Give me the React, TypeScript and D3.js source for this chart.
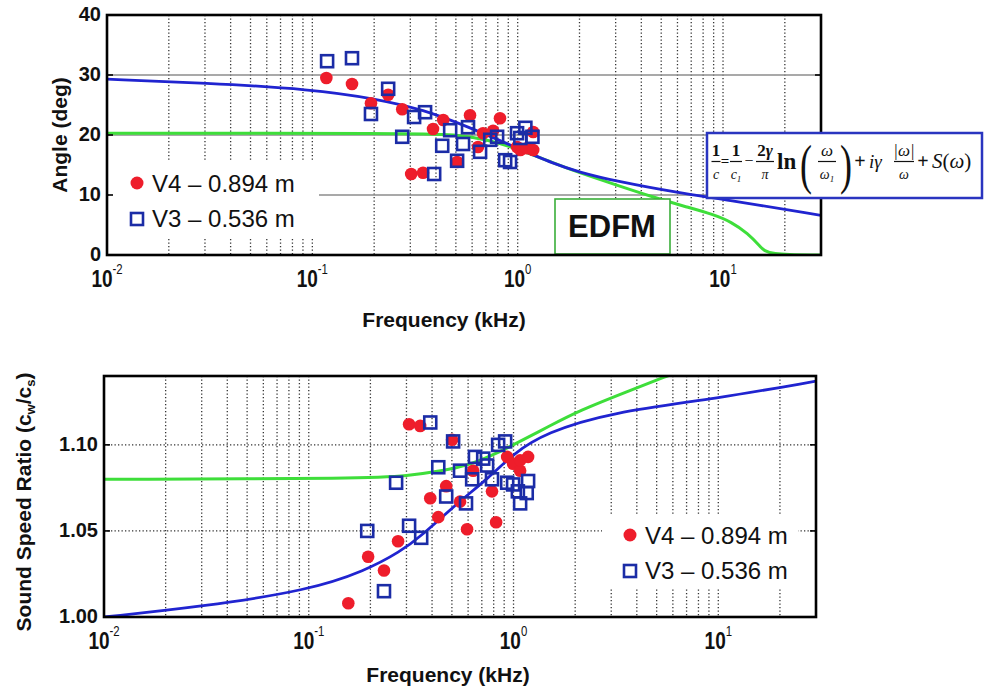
import React from 'react';
import * as d3 from 'd3';

const W = 984;
const H = 693;
const SANS = '"Liberation Sans", Arial, sans-serif';
const SERIF = '"Liberation Serif", "Times New Roman", serif';

const RED = '#ee1d2b';
const SQUARE = '#1b2ca6';
const BLUE = '#2024d0';
const GREEN = '#3ede3a';

// ---- top panel: angle (deg) vs frequency (kHz)
const angleBlueFreq = [0.01, 0.03, 0.1, 0.2, 0.35, 0.57, 1.0, 1.5, 2.0, 3.0, 6.2, 10, 30];
const angleBlueVal = [29.3, 28.7, 27.6, 26.1, 24.2, 21.4, 17.8, 15.2, 13.8, 12.3, 10.3, 9.3, 6.6];
const angleGreenFreq = [0.01, 0.3, 0.5, 0.7, 1.0, 1.5, 2.0, 3.0, 4.6, 6.5, 8.9, 11, 13.2, 15.2, 16.5, 30];
const angleGreenVal = [20.3, 20.3, 20.1, 19.3, 17.7, 15.3, 13.7, 11.7, 9.6, 8.1, 6.8, 5.5, 3.6, 1.4, 0, 0];

const angleV4Freq = [0.117, 0.156, 0.193, 0.234, 0.274, 0.303, 0.346, 0.387, 0.434, 0.507, 0.586, 0.641, 0.678, 0.759, 0.82, 0.993, 1.03, 1.11, 1.19, 1.19];
const angleV4Val = [29.5, 28.5, 25.3, 26.7, 24.3, 13.5, 13.7, 21, 22.5, 15.5, 23.3, 18, 20.3, 20.7, 22.8, 18, 17.5, 17.8, 20.5, 17.5];
const angleV3Freq = [0.118, 0.156, 0.193, 0.234, 0.274, 0.313, 0.354, 0.392, 0.429, 0.469, 0.542, 0.507, 0.573, 0.656, 0.735, 0.794, 0.869, 0.918, 0.993, 1.09, 1.18, 1.03];
const angleV3Val = [32.3, 32.8, 23.5, 27.7, 19.7, 23, 23.8, 13.5, 18.2, 20.8, 18.5, 15.7, 21.3, 17.2, 19.2, 19.7, 15.8, 15.5, 20.3, 21.2, 19.7, 19.5];

// ---- bottom panel: sound speed ratio vs frequency (kHz)
const ratioBlueFreq = [0.01, 0.03, 0.1, 0.19, 0.28, 0.354, 0.53, 0.76, 1.0, 1.43, 3.0, 10, 30];
const ratioBlueVal = [1.0, 1.006, 1.0155, 1.027, 1.038, 1.047, 1.066, 1.081, 1.095, 1.107, 1.119, 1.127, 1.137];
const ratioGreenFreq = [0.01, 0.2, 0.3, 0.45, 0.6, 0.79, 1.0, 1.5, 2.1, 3.6, 5.6, 7];
const ratioGreenVal = [1.08, 1.0805, 1.082, 1.085, 1.088, 1.094, 1.1, 1.111, 1.12, 1.131, 1.14, 1.144];

const ratioV4Freq = [0.156, 0.195, 0.233, 0.273, 0.309, 0.35, 0.392, 0.429, 0.469, 0.501, 0.548, 0.593, 0.635, 0.785, 0.822, 0.931, 0.995, 1.077, 1.077, 1.178];
const ratioV4Val = [1.008, 1.035, 1.027, 1.044, 1.112, 1.111, 1.069, 1.058, 1.076, 1.103, 1.067, 1.051, 1.085, 1.073, 1.055, 1.093, 1.089, 1.085, 1.091, 1.093];
const ratioV3Freq = [0.193, 0.233, 0.267, 0.309, 0.354, 0.392, 0.429, 0.469, 0.507, 0.548, 0.586, 0.628, 0.648, 0.711, 0.743, 0.785, 0.841, 0.91, 0.931, 0.995, 1.05, 1.077, 1.16, 1.178];
const ratioV3Val = [1.05, 1.015, 1.078, 1.053, 1.046, 1.113, 1.087, 1.07, 1.102, 1.085, 1.066, 1.08, 1.093, 1.092, 1.088, 1.08, 1.1, 1.102, 1.078, 1.077, 1.073, 1.066, 1.072, 1.079];

const decades = [0.01, 0.1, 1, 10];
const decadeExp = ['-2', '-1', '0', '1'];
const angleTicks = [0, 10, 20, 30, 40];
const ratioTicks = [1.0, 1.05, 1.1];
const legendLabels = ['V4 \u2013 0.894 m', 'V3 \u2013 0.536 m'];

const zip = (a: number[], b: number[]) => a.map((v, i) => [v, b[i]] as [number, number]);

type PanelProps = {
  id: string;
  left: number; right: number; top: number; bottom: number;
  yDomain: [number, number];
  yTicks: number[];
  yFmt: (v: number) => string;
  solidHGrid: boolean;
  blue: [number, number][];
  green: [number, number][];
  v4: [number, number][];
  v3: [number, number][];
  legend: { x: number; y: number; w: number; h: number };
  yLabel: React.ReactNode;
  xLabelY: number;
  xLabelX: number;
  extra?: React.ReactNode;
};

function Panel(p: PanelProps) {
  const x = d3.scaleLog().domain([0.01, 30]).range([p.left, p.right]);
  const y = d3.scaleLinear().domain(p.yDomain).range([p.bottom, p.top]);
  const line = d3.line<[number, number]>()
    .x((d) => x(d[0]))
    .y((d) => y(d[1]))
    .curve(d3.curveBasis);
  const vGrid = x.ticks().filter((t) => t > 0.01 && t < 30);
  const hGrid = p.yTicks.filter((t) => t > p.yDomain[0] && t < p.yDomain[1]);
  const lg = p.legend;

  return (
    <g>
      <defs>
        <clipPath id={p.id}>
          <rect x={p.left} y={p.top} width={p.right - p.left} height={p.bottom - p.top} />
        </clipPath>
      </defs>
      <rect x={p.left} y={p.top} width={p.right - p.left} height={p.bottom - p.top} fill="#fff" />
      {vGrid.map((t) => (
        <line key={'v' + t} x1={x(t)} x2={x(t)} y1={p.top} y2={p.bottom}
          stroke="#333" strokeWidth={1.3} strokeDasharray="1.3 2.2" />
      ))}
      {hGrid.map((t) => (
        <line key={'h' + t} x1={p.left} x2={p.right} y1={y(t)} y2={y(t)}
          stroke={p.solidHGrid ? '#8c8c8c' : '#333'}
          strokeWidth={p.solidHGrid ? 1.6 : 1.3}
          strokeDasharray={p.solidHGrid ? undefined : '1.3 2.2'} />
      ))}
      <rect x={lg.x} y={lg.y} width={lg.w} height={lg.h} fill="#fff" />
      <g clipPath={`url(#${p.id})`}>
        <path d={line(p.green) || ''} fill="none" stroke={GREEN} strokeWidth={3} />
        <path d={line(p.blue) || ''} fill="none" stroke={BLUE} strokeWidth={2.8} />
        {p.v4.map((d, i) => (
          <circle key={'c' + i} cx={x(d[0])} cy={y(d[1])} r={6.3} fill={RED} />
        ))}
        {p.v3.map((d, i) => (
          <rect key={'s' + i} x={x(d[0]) - 6} y={y(d[1]) - 6} width={12} height={12}
            fill="none" stroke={SQUARE} strokeWidth={2.6} />
        ))}
      </g>
      {/* legend */}
      <circle cx={lg.x + 28} cy={lg.y + 21} r={6.5} fill={RED} />
      <rect x={lg.x + 22} y={lg.y + 51} width={12} height={12} fill="none" stroke={SQUARE} strokeWidth={2.6} />
      <text x={lg.x + 43} y={lg.y + 30} fontFamily={SANS} fontSize={24} fill="#111">{legendLabels[0]}</text>
      <text x={lg.x + 43} y={lg.y + 65} fontFamily={SANS} fontSize={24} fill="#111">{legendLabels[1]}</text>
      {p.extra}
      {/* frame & ticks */}
      <rect x={p.left} y={p.top} width={p.right - p.left} height={p.bottom - p.top}
        fill="none" stroke="#000" strokeWidth={2.6} />
      {hGrid.map((t) => (
        <g key={'t' + t}>
          <line x1={p.left} x2={p.left + 6} y1={y(t)} y2={y(t)} stroke="#000" strokeWidth={1.6} />
          <line x1={p.right - 6} x2={p.right} y1={y(t)} y2={y(t)} stroke="#000" strokeWidth={1.6} />
        </g>
      ))}
      {p.yTicks.map((t) => (
        <text key={'yl' + t} x={p.left - 6} y={y(t) + 6} textAnchor="end"
          fontFamily={SANS} fontWeight="bold" fontSize={20} fill="#111">{p.yFmt(t)}</text>
      ))}
      {decades.map((t, i) => (
        <g key={'xl' + t} transform={`translate(${x(t)},${p.bottom + 32}) scale(0.95,1.2)`}>
          <text textAnchor="middle" fontFamily={SANS} fill="#111">
            <tspan fontWeight="bold" fontSize={20}>10</tspan>
            <tspan fontSize={12} dy={-11}>{decadeExp[i]}</tspan>
          </text>
        </g>
      ))}
      <text x={p.xLabelX} y={p.xLabelY} textAnchor="middle" fontFamily={SANS}
        fontWeight="bold" fontSize={21} fill="#111">Frequency (kHz)</text>
      {p.yLabel}
    </g>
  );
}

function Frac({ cx, w, num, den }: { cx: number; w: number; num: React.ReactNode; den: React.ReactNode }) {
  return (
    <g>
      <text x={cx} y={156} textAnchor="middle" fontFamily={SERIF} fontWeight="bold" fontSize={17} fill="#111">{num}</text>
      <line x1={cx - w / 2} x2={cx + w / 2} y1={161.5} y2={161.5} stroke="#111" strokeWidth={1.2} />
      <text x={cx} y={179} textAnchor="middle" fontFamily={SERIF} fontStyle="italic" fontSize={14} fill="#111">{den}</text>
    </g>
  );
}

function Formula() {
  const t = { fontFamily: SERIF, fill: '#111' };
  return (
    <g>
      <rect x={707} y={133} width={275} height={65} fill="#fff" stroke="#2a35c0" strokeWidth={2.5} />
      <Frac cx={716} w={9} num="1" den="c" />
      <text x={725} y={166} textAnchor="middle" {...t} fontSize={15} fontWeight="bold">=</text>
      <Frac cx={736} w={12} num="1" den={<>c<tspan fontSize={9} dy={3}>1</tspan></>} />
      <text x={749} y={166} textAnchor="middle" {...t} fontSize={16}>{'\u2212'}</text>
      <Frac cx={765} w={18} num={<>2<tspan fontStyle="italic">γ</tspan></>} den="π" />
      <text x={777} y={169} {...t} fontSize={23} fontWeight="bold">ln</text>
      <g transform="translate(806,183) scale(1,1.55)">
        <text textAnchor="middle" {...t} fontSize={36}>(</text>
      </g>
      <Frac cx={827} w={18} num={<tspan fontStyle="italic" fontWeight="normal">ω</tspan>} den={<>ω<tspan fontSize={9} dy={3}>1</tspan></>} />
      <g transform="translate(846,183) scale(1,1.55)">
        <text textAnchor="middle" {...t} fontSize={36}>)</text>
      </g>
      <text x={860} y={168} textAnchor="middle" {...t} fontSize={20} fontWeight="bold">+</text>
      <text x={869} y={168} {...t} fontSize={19} fontStyle="italic">iγ</text>
      <Frac cx={904} w={20} num={<tspan fontStyle="italic" fontWeight="normal">|ω|</tspan>} den="ω" />
      <text x={923} y={168} textAnchor="middle" {...t} fontSize={20} fontWeight="bold">+</text>
      <text x={932} y={168} {...t} fontSize={21}><tspan fontStyle="italic">S</tspan>(<tspan fontStyle="italic">ω</tspan>)</text>
    </g>
  );
}

export default function App() {
  return (
    <svg width={W} height={H} viewBox={`0 0 ${W} ${H}`}
      style={{ position: 'absolute', left: 0, top: 0, background: '#fff' }}>
      <rect width={W} height={H} fill="#fff" />
      <Panel
        id="clipTop"
        left={107} right={821} top={15} bottom={255}
        yDomain={[0, 40]}
        yTicks={angleTicks}
        yFmt={(v) => String(v)}
        solidHGrid={true}
        blue={zip(angleBlueFreq, angleBlueVal)}
        green={zip(angleGreenFreq, angleGreenVal)}
        v4={zip(angleV4Freq, angleV4Val)}
        v3={zip(angleV3Freq, angleV3Val)}
        legend={{ x: 109, y: 162, w: 210, h: 77 }}
        xLabelX={444}
        xLabelY={327}
        yLabel={
          <text transform="translate(67,135) rotate(-90)" textAnchor="middle" fontFamily={SANS}
            fontWeight="bold" fontSize={21} fill="#111">Angle (deg)</text>
        }
        extra={
          <g>
            <rect x={555} y={199} width={115} height={55} fill="#fff" stroke="#3aae3a" strokeWidth={1.6} />
            <text x={612} y={237} textAnchor="middle" fontFamily={SANS} fontWeight="bold" fontSize={31} fill="#111">EDFM</text>
          </g>
        }
      />
      <Formula />
      <Panel
        id="clipBottom"
        left={104} right={816} top={376} bottom={617}
        yDomain={[1.0, 1.14]}
        yTicks={ratioTicks}
        yFmt={(v) => v.toFixed(2)}
        solidHGrid={false}
        blue={zip(ratioBlueFreq, ratioBlueVal)}
        green={zip(ratioGreenFreq, ratioGreenVal)}
        v4={zip(ratioV4Freq, ratioV4Val)}
        v3={zip(ratioV3Freq, ratioV3Val)}
        legend={{ x: 602, y: 514, w: 196, h: 74 }}
        xLabelX={448}
        xLabelY={682}
        yLabel={
          <text transform="translate(31,502) rotate(-90)" textAnchor="middle" fontFamily={SANS}
            fontWeight="bold" fontSize={21} fill="#111">
            Sound Speed Ratio (c<tspan fontSize={13} dy={4}>w</tspan><tspan dy={-4}>/c</tspan><tspan fontSize={13} dy={4}>s</tspan><tspan dy={-4}>)</tspan>
          </text>
        }
      />
    </svg>
  );
}
